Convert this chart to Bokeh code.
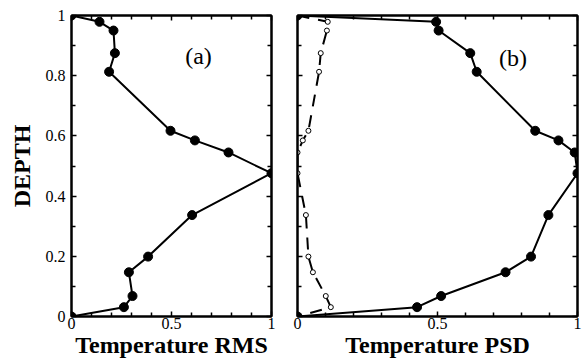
from bokeh.plotting import figure
from bokeh.layouts import row
from bokeh.models import Range1d, FixedTicker, LinearAxis, Label
from bokeh.embed import file_html
from bokeh.resources import INLINE

# ---- data ----
depth = [1.0, 0.979, 0.95, 0.875, 0.813, 0.617, 0.585, 0.545, 0.476, 0.337, 0.199, 0.147, 0.068, 0.031, 0.0]
temp_rms = [0.0, 0.14, 0.21, 0.217, 0.188, 0.495, 0.617, 0.785, 1.0, 0.603, 0.383, 0.287, 0.305, 0.262, 0.0]
temp_psd = [0.0, 0.495, 0.504, 0.617, 0.640, 0.849, 0.932, 0.99, 1.0, 0.896, 0.834, 0.743, 0.513, 0.427, 0.0]
temp_psd_dash = [0.0, 0.108, 0.105, 0.083, 0.077, 0.039, 0.019, 0.0, 0.0, 0.030, 0.039, 0.055, 0.101, 0.119, 0.0]

x_major = [0, 0.5, 1]
x_minor = [0.1, 0.2, 0.3, 0.4, 0.6, 0.7, 0.8, 0.9]
y_major = [0, 0.2, 0.4, 0.6, 0.8, 1.0]
y_minor = [0.1, 0.3, 0.5, 0.7, 0.9]
x_labels = {0: "0", 0.5: "0.5", 1: "1"}
y_labels = {0: "0", 0.2: "0.2", 0.4: "0.4", 0.6: "0.6", 0.8: "0.8", 1.0: "1"}

FONT = "Liberation Serif"


def style_axis(ax, major, minor, show_labels):
    ax.ticker = FixedTicker(ticks=major, minor_ticks=minor)
    ax.axis_line_width = 2
    ax.axis_line_color = "black"
    ax.major_tick_in = 5
    ax.major_tick_out = 0
    ax.minor_tick_in = 4
    ax.minor_tick_out = 0
    ax.major_tick_line_width = 1.5
    ax.minor_tick_line_width = 1.5
    ax.major_tick_line_color = "black"
    ax.minor_tick_line_color = "black"
    ax.major_label_text_font = FONT
    if show_labels:
        ax.major_label_text_font_size = "16px"
        ax.major_label_text_color = "black"
    else:
        ax.major_label_text_font_size = "1px"
        ax.major_label_text_color = None
        ax.major_label_standoff = 0
    ax.axis_label_text_font = FONT
    ax.axis_label_text_font_style = "bold"
    ax.axis_label_text_font_size = "24px"
    ax.axis_label_text_color = "black"


def make_fig(width, left, right, show_y_labels):
    p = figure(width=width, height=361, output_backend="svg", toolbar_location=None,
               x_range=Range1d(0, 1), y_range=Range1d(0, 1),
               min_border_left=left, min_border_right=right,
               min_border_top=15, min_border_bottom=45)
    p.xgrid.visible = False
    p.ygrid.visible = False
    p.outline_line_color = "black"
    p.outline_line_width = 2
    p.background_fill_color = "white"
    p.border_fill_color = "white"
    xb = p.below[0]
    yl = p.left[0]
    style_axis(xb, x_major, x_minor, True)
    xb.major_label_overrides = x_labels
    xb.major_label_standoff = 1
    xb.axis_label_standoff = 0
    style_axis(yl, y_major, y_minor, show_y_labels)
    if show_y_labels:
        yl.major_label_overrides = y_labels
        yl.major_label_standoff = 6
        yl.axis_label_standoff = 8
    top = LinearAxis()
    style_axis(top, x_major, x_minor, False)
    p.add_layout(top, "above")
    rt = LinearAxis()
    style_axis(rt, y_major, y_minor, False)
    p.add_layout(rt, "right")
    return p, xb, yl


# ---- panel (a) ----
p1, xb1, yl1 = make_fig(284, 71, 13, True)
xb1.axis_label = "Temperature RMS"
yl1.axis_label = "DEPTH"
p1.line(temp_rms, depth, line_color="black", line_width=2)
p1.scatter(temp_rms, depth, size=9, fill_color="black", line_color="black")
p1.add_layout(Label(x=0.635, y=0.864, text="(a)", text_font=FONT, text_font_size="24px",
                    text_align="center", text_baseline="middle", text_color="black"))

# ---- panel (b) ----
p2, xb2, yl2 = make_fig(300, 13, 7, False)
xb2.axis_label = "Temperature PSD"
p2.line(temp_psd_dash, depth, line_color="black", line_width=2, line_dash="12 9")
p2.scatter(temp_psd_dash, depth, size=5, fill_color="white", line_color="black", line_width=1)
p2.line(temp_psd, depth, line_color="black", line_width=2)
p2.scatter(temp_psd, depth, size=9, fill_color="black", line_color="black")
p2.add_layout(Label(x=0.77, y=0.86, text="(b)", text_font=FONT, text_font_size="24px",
                    text_align="center", text_baseline="middle", text_color="black"))

layout = row(p1, p2)
open("out.html", "w").write(file_html(layout, INLINE))
